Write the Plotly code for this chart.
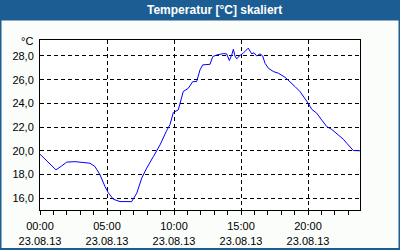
import pandas as pd
import plotly.graph_objects as go

# Data (hours after midnight, 23.08.2013)
hours = [0.00, 0.37, 0.75, 1.19, 1.62, 1.99, 2.61, 3.36, 3.73, 4.10, 4.48, 4.85, 5.10, 5.47,
         5.97, 6.84, 7.22, 7.59, 7.96, 8.46, 8.96, 9.45, 9.70, 9.95, 10.32, 10.69, 11.07,
         11.40, 11.69, 11.94, 12.14, 12.69, 12.89, 13.19, 13.43, 13.68, 13.93, 14.13, 14.31,
         14.43, 14.55, 14.68, 14.87, 15.17, 15.54, 15.80, 15.97, 16.17, 16.42, 16.62, 16.79,
         17.04, 17.41, 17.78, 18.28, 18.66, 19.03, 19.40, 19.78, 20.02, 20.28, 20.65, 21.02,
         21.40, 21.77, 22.26, 22.63, 22.89, 23.13, 23.38, 23.88]
temps = [19.71, 19.30, 18.95, 18.39, 18.72, 19.04, 19.08, 19.02, 18.95, 18.67, 17.97, 16.98,
         16.45, 15.91, 15.71, 15.71, 16.42, 17.69, 18.53, 19.51, 20.50, 21.70, 22.20, 23.23,
         23.45, 25.00, 25.28, 25.84, 25.84, 26.83, 27.25, 27.30, 27.95, 28.09, 28.15, 28.20,
         28.18, 27.62, 28.09, 28.57, 28.00, 27.76, 28.00, 28.24, 28.66, 28.18, 28.28, 28.00,
         28.18, 28.00, 27.39, 26.97, 26.69, 26.55, 26.21, 25.84, 25.42, 25.00, 24.44, 24.00,
         23.50, 23.17, 22.60, 22.04, 21.80, 21.34, 20.98, 20.64, 20.30, 20.02, 20.00]
y_ticks = [16, 18, 20, 22, 24, 26, 28]
title_text = "Temperatur [°C] skaliert"
unit_label = "°C"
day = "2013-08-23"

times = pd.Timestamp(day) + pd.to_timedelta(hours, unit="h")

W, H = 400, 250
ML, MR, MT, MB = 40, 40, 40, 40
PW, PH = W - ML - MR, H - MT - MB

def px_x(x):
    return (x - ML) / PW

def px_y(y):
    return (H - MB - y) / PH

fig = go.Figure()
fig.add_trace(go.Scatter(x=times, y=temps, mode="lines",
                         line=dict(color="#0000ff", width=1), hoverinfo="skip"))

font = "Liberation Sans, Arial, sans-serif"
fig.update_layout(
    width=W, height=H,
    margin=dict(l=ML, r=MR, t=MT, b=MB, pad=0, autoexpand=False),
    paper_bgcolor="#fafdfa",
    plot_bgcolor="#ffffff",
    showlegend=False,
    separators=",.",
    font=dict(family=font, size=11, color="#000000"),
)
fig.update_xaxes(
    type="date", automargin=False,
    range=[pd.Timestamp(day), pd.Timestamp(day) + pd.Timedelta(hours=23.88)],
    tick0=pd.Timestamp(day), dtick=5 * 3600000,
    tickformat="%H:%M<br>%d.%m.%y",
    ticks="outside", ticklen=4, tickcolor="#000000", tickwidth=1,
    ticklabelstandoff=2,
    showline=True, linecolor="#000000", linewidth=1, mirror=True,
    showgrid=True, gridcolor="#000000", gridwidth=1, griddash="4px,3px",
    minor=dict(dtick=3600000, ticks="outside", ticklen=4, tickcolor="#000000",
               tickwidth=1, showgrid=False),
    zeroline=False,
    tickfont=dict(family=font, size=11, color="#000000"),
)
fig.update_yaxes(
    range=[15.0, 29.35], automargin=False,
    tickvals=y_ticks, tickformat=".1f",
    ticks="outside", ticklen=3, tickcolor="rgba(0,0,0,0)",
    showline=True, linecolor="#000000", linewidth=1, mirror=True,
    showgrid=True, gridcolor="#000000", gridwidth=1, griddash="4px,3px",
    zeroline=False,
    tickfont=dict(family=font, size=11, color="#000000"),
)

blue = "#1c5e93"
shapes = [
    # title bar
    dict(type="rect", xref="paper", yref="paper", x0=px_x(0), x1=px_x(400),
         y0=px_y(20.5), y1=px_y(0), fillcolor=blue, line=dict(width=0), layer="below"),
    # frame: left, right, bottom
    dict(type="rect", xref="paper", yref="paper", x0=px_x(0), x1=px_x(1.5),
         y0=px_y(250), y1=px_y(0), fillcolor=blue, line=dict(width=0), layer="below"),
    dict(type="rect", xref="paper", yref="paper", x0=px_x(398.5), x1=px_x(400),
         y0=px_y(250), y1=px_y(0), fillcolor=blue, line=dict(width=0), layer="below"),
    dict(type="rect", xref="paper", yref="paper", x0=px_x(0), x1=px_x(400),
         y0=px_y(250), y1=px_y(248), fillcolor=blue, line=dict(width=0), layer="below"),
]
fig.update_layout(shapes=shapes)

fig.add_annotation(text="<b>" + title_text + "</b>", xref="paper", yref="paper",
                   x=px_x(214.5), y=px_y(10.5), xanchor="center", yanchor="middle",
                   showarrow=False, font=dict(family=font, size=12, color="#ffffff"))
fig.add_annotation(text=unit_label, xref="paper", yref="paper",
                   x=px_x(35), y=px_y(40.5), xanchor="right", yanchor="middle",
                   showarrow=False, font=dict(family=font, size=11, color="#000000"))

fig.write_html("out.html")
